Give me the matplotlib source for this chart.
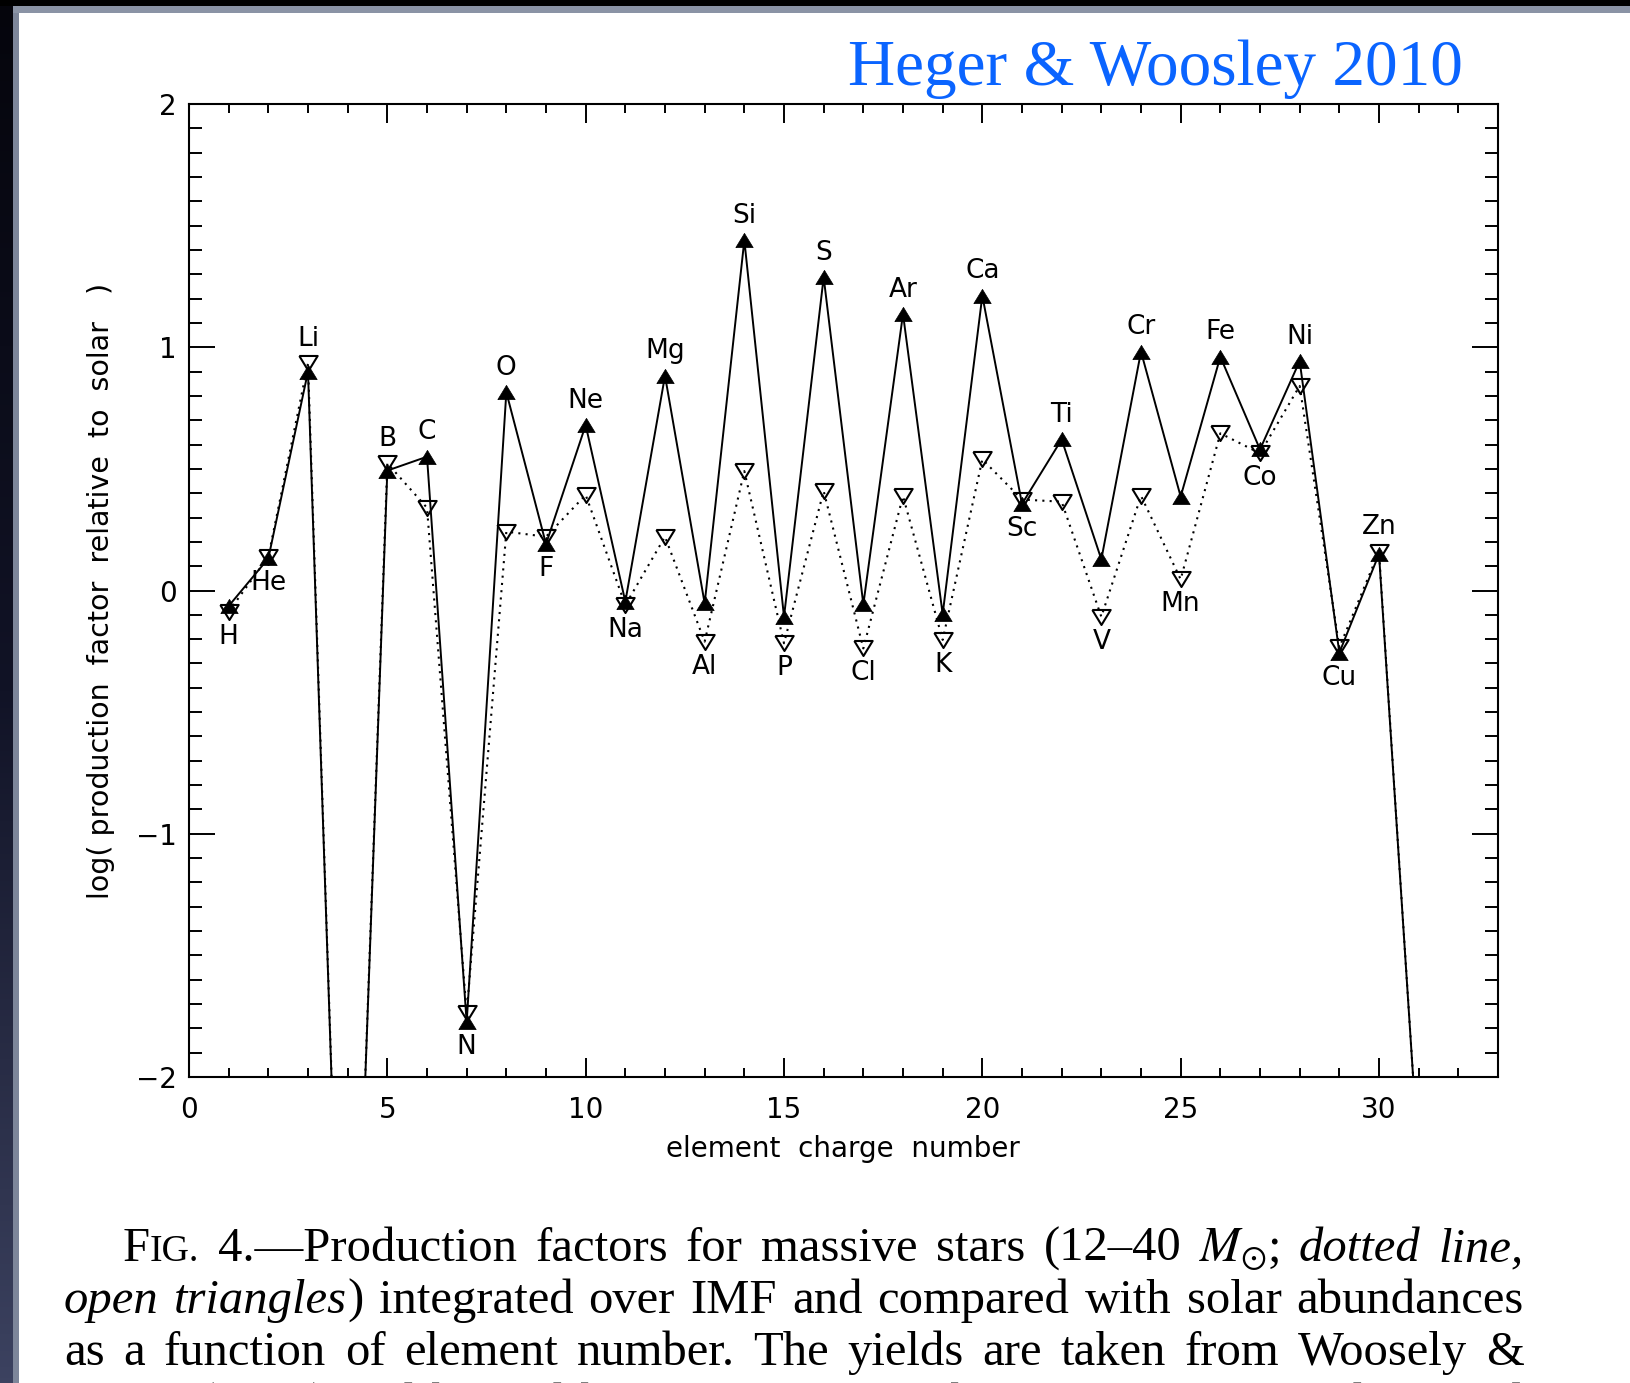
import numpy as np
import matplotlib
matplotlib.use("Agg")
import matplotlib.pyplot as plt
from matplotlib.patches import Rectangle
from matplotlib.ticker import MultipleLocator

# ---------------- data ----------------
Z = list(range(1, 32))
elements = ['H', 'He', 'Li', 'Be', 'B', 'C', 'N', 'O', 'F', 'Ne', 'Na', 'Mg', 'Al', 'Si', 'P', 'S',
            'Cl', 'Ar', 'K', 'Ca', 'Sc', 'Ti', 'V', 'Cr', 'Mn', 'Fe', 'Co', 'Ni', 'Cu', 'Zn', 'Ga']
# solid line, filled triangles
pf_filled = [-0.064, 0.132, 0.900, -4.0, 0.493, 0.550, -1.775, 0.815, 0.191, 0.680, -0.046,
             0.883, -0.053, 1.440, -0.108, 1.288, -0.057, 1.137, -0.097, 1.212, 0.356, 0.621,
             0.128, 0.982, 0.386, 0.961, 0.580, 0.943, -0.256, 0.150, -2.35]
# dotted line, open triangles (12-40 Msun)
pf_open = [-0.087, 0.139, 0.934, -4.0, 0.523, 0.340, -1.738, 0.242, 0.221, 0.393, -0.060,
           0.221, -0.210, 0.491, -0.217, 0.409, -0.238, 0.388, -0.203, 0.539, 0.374, 0.365,
           -0.108, 0.389, 0.046, 0.646, 0.564, 0.841, -0.234, 0.160, -2.35]
label_side = ['below', 'below', 'above', None, 'above', 'above', 'below', 'above', 'below', 'above',
              'below', 'above', 'below', 'above', 'below', 'above', 'below', 'above', 'below', 'above',
              'below', 'above', 'below', 'above', 'below', 'above', 'below', 'above', 'below', 'above', None]

x_ticks = [0, 5, 10, 15, 20, 25, 30]
y_ticks = [-2, -1, 0, 1, 2]

# ---------------- figure ----------------
W_PX, H_PX = 1631, 1383
fig = plt.figure(figsize=(W_PX / 100, H_PX / 100), dpi=100)
fig.patch.set_facecolor('white')

# screenshot frame (dark edges)
grad = np.linspace(0, 1, 256).reshape(-1, 1)
axg = fig.add_axes([0, 0, 13 / W_PX, 1])
axg.imshow(grad, aspect='auto', cmap=matplotlib.colors.LinearSegmentedColormap.from_list(
    'g', ['#05050c', '#111326', '#3c4260']), extent=[0, 1, 0, 1])
axg.set_axis_off()
fig.add_artist(Rectangle((13 / W_PX, 0), 6 / W_PX, 1 - 6 / H_PX, transform=fig.transFigure,
                         color='#7d869a', lw=0))
fig.add_artist(Rectangle((0, 1 - 6 / H_PX), 1, 6 / H_PX, transform=fig.transFigure,
                         color='#000000', lw=0))
fig.add_artist(Rectangle((13 / W_PX, 1 - 13 / H_PX), 1, 7 / H_PX, transform=fig.transFigure,
                         color='#8a93a5', lw=0))

# main axes
L, R, T, B = 189, 1498, 104, 1077
ax = fig.add_axes([L / W_PX, 1 - B / H_PX, (R - L) / W_PX, (B - T) / H_PX])

up_tri = [(-1, -0.82), (1, -0.82), (0, 0.82), (-1, -0.82)]
dn_tri = [(-1, 0.82), (1, 0.82), (0, -0.82), (-1, 0.82)]

ax.plot(Z, pf_open, color='black', lw=1.5, linestyle=(0, (1, 2.5)),
        marker=dn_tri, ms=13.2, mfc='none', mec='black', mew=1.5, zorder=2)
ax.plot(Z, pf_filled, color='black', lw=1.4, linestyle='-',
        marker=up_tri, ms=12.5, mfc='black', mec='black', mew=0.5, zorder=3)

lab_font = dict(family='DejaVu Sans', fontsize=19)
for z, el, a, b, side in zip(Z, elements, pf_filled, pf_open, label_side):
    if side is None:
        continue
    if side == 'above':
        ax.annotate(el, (z, max(a, b)), xytext=(0, 17.5), textcoords='offset points',
                    ha='center', va='center', **lab_font)
    else:
        ax.annotate(el, (z, min(a, b)), xytext=(0, -18), textcoords='offset points',
                    ha='center', va='center', **lab_font)

ax.set_xlim(0, 33)
ax.set_ylim(-2, 2)
ax.set_xticks(x_ticks)
ax.set_yticks(y_ticks)
ax.set_xticklabels([str(v) for v in x_ticks])
ax.set_yticklabels([str(v).replace('-', '\u2212') for v in y_ticks])
ax.xaxis.set_minor_locator(MultipleLocator(1))
ax.yaxis.set_minor_locator(MultipleLocator(0.1))
ax.tick_params(axis='x', which='major', direction='in', length=13.5, width=1.4,
               top=True, bottom=True, labelsize=20, pad=14)
ax.tick_params(axis='x', which='minor', direction='in', length=6.5, width=1.4, top=True, bottom=True)
ax.tick_params(axis='y', which='major', direction='in', length=18.7, width=1.4,
               left=True, right=True, labelsize=20, pad=9)
ax.tick_params(axis='y', which='minor', direction='in', length=9.4, width=1.4, left=True, right=True)
for sp in ax.spines.values():
    sp.set_linewidth(1.5)

fig.text(843 / W_PX, 1 - 1149 / H_PX, 'element  charge  number', ha='center', va='center',
         fontsize=20, family='DejaVu Sans')
fig.text(101 / W_PX, 1 - 591 / H_PX, 'log( production  factor  relative  to  solar   )',
         ha='center', va='center', rotation=90, fontsize=20.5, family='DejaVu Sans')

# title
fig.text(1155 / W_PX, 1 - 85 / H_PX, 'Heger & Woosley 2010', ha='center', va='baseline',
         fontsize=47, family='Liberation Serif', color='#0a64ff')

# ---------------- caption (justified) ----------------
plt.rcParams['mathtext.fontset'] = 'stix'
CAP = 35
R_ = dict(family='Liberation Serif', fontsize=CAP)
I_ = dict(family='Liberation Serif', fontsize=CAP, style='italic')
SC = dict(family='Liberation Serif', fontsize=CAP * 0.78)
MT = dict(fontsize=CAP)


def words(s, props):
    return [[(w, props)] for w in s.split()]


lines = [
    (123, 1524, 1261,
     [[('F', R_), ('IG.', SC)], [('4.\u2014Production', R_)]] + words('factors for massive stars', R_)
     + [[('(12\u201340', R_)], [(r'$M_{\odot}$', MT), (';', R_)], [('dotted', I_)], [('line,', I_)]]),
    (64, 1524, 1313,
     [[('open', I_)], [('triangles', I_), (')', R_)]]
     + words('integrated over IMF and compared with solar abundances', R_)),
    (64, 1524, 1365,
     words('as a function of element number. The yields are taken from Woosely &', R_)),
    (64, 1524, 1417,
     words('Heger (2007) and binned by the same mass bins as in Fig. 1 and applied', R_)),
]

fig.canvas.draw()
renderer = fig.canvas.get_renderer()
for x0, x1, yb, wl in lines:
    arts = []
    widths = []
    for word in wl:
        segs = []
        tot = 0
        for txt, props in word:
            t = fig.text(0, 1 - yb / H_PX, txt, ha='left', va='baseline', **props)
            w = t.get_window_extent(renderer).width
            segs.append((t, w))
            tot += w
        arts.append(segs)
        widths.append(tot)
    gap = ((x1 - x0) - sum(widths)) / (len(wl) - 1)
    x = x0
    for segs, w in zip(arts, widths):
        for t, sw in segs:
            t.set_x(x / W_PX)
            x += sw
        x += gap

fig.savefig('out.png', dpi=100, facecolor='white')
